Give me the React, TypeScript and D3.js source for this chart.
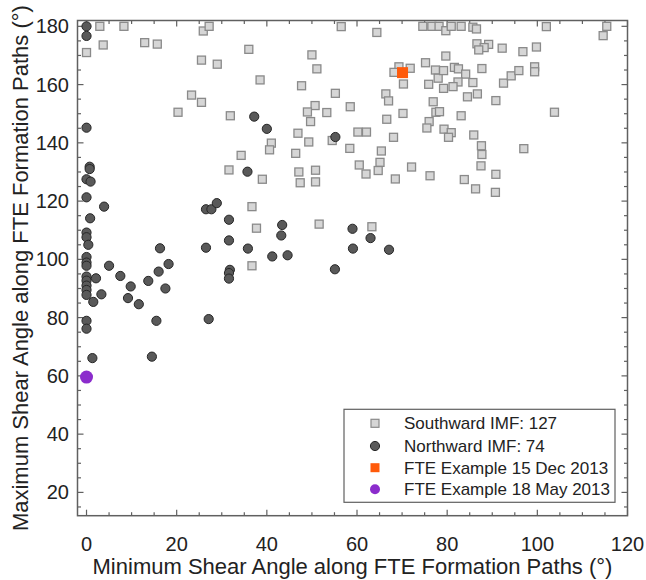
import React from "react";
import * as d3 from "d3";

// ---------- DATA ----------
const southward: [number, number][] = [
  [2.95, 180], [8.3, 180], [0, 171], [3.7, 173.6], [12.9, 174.4], [15.7, 173.9], [25.9, 178.4],
  [27.2, 180], [25.5, 168.4], [29, 167], [36, 172.1], [38.5, 161.6], [23.3, 156.4], [25.5, 153.9],
  [20.3, 150.5], [31.9, 149.3], [34.3, 135.7], [31.6, 130.7], [39, 127.5],
  [56.5, 179.9], [64.4, 177.9], [50, 170.2], [51.1, 165.4], [47.7, 159.6], [55.2, 157], [50.7, 152.8],
  [49, 150.6], [53.3, 150.4], [58.5, 152.4], [49.7, 147.3], [46.9, 143.3], [49.3, 140.3], [41, 139.9],
  [40.6, 137.6], [46.4, 136.4], [54.5, 140.8], [60.2, 143.7], [62.1, 143.7], [58.4, 138.1], [47.1, 130],
  [50.8, 130.6], [47.4, 126.3], [50.8, 126.6], [60.5, 132.4], [62, 129.3], [65.1, 133.3], [65.4, 137.2],
  [64.7, 130.5], [68.5, 127.6], [72.1, 131.7], [76.2, 128.7], [68.1, 141.9], [66.6, 148.1], [70.2, 150.1],
  [66.4, 156.8], [67, 154.4], [69.3, 166.1], [68.2, 164.2], [71.8, 165.6], [70.3, 160.2], [75.2, 167.5],
  [77.4, 165], [78, 162.2], [75.9, 160.1], [76.9, 154.1], [77.5, 150.5], [76, 147.3], [75.5, 145.1],
  [74.6, 180], [76.6, 180], [78.2, 180],
  [79.7, 178.5], [80.9, 180], [83.1, 180], [85.7, 179.7], [86.5, 179.1], [102, 179.9], [115.4, 180],
  [114.6, 176.8], [86.6, 174], [89.2, 173.8], [88.2, 172.7], [87, 171.9], [92.2, 172.5], [96.8, 171.3],
  [99.8, 172.9], [79.7, 169.8], [79.2, 164.8], [81.6, 165.9], [82.5, 165.4], [84.1, 163.6], [87.7, 165.5],
  [82.4, 160.9], [81.3, 159.3], [79.2, 158.7], [85.7, 160.7], [92.5, 160.5], [94.2, 163], [95.9, 164.8],
  [99.4, 166.1], [99.4, 164.4], [84.5, 155.8], [86.7, 156.8], [90.8, 154.5], [78.3, 150.7], [83.1, 149.3],
  [103.8, 150.5], [79.3, 144.7], [80.9, 143.5], [80.3, 141.9], [85.9, 142.7], [87.6, 139], [87.7, 136],
  [87.5, 132.1], [97, 138], [83.8, 127.4], [86.3, 124.2], [90.8, 129.2], [90.7, 123],
  [36.7, 118.1], [37.7, 110.7], [36.7, 97.8], [51.6, 112.1], [63.3, 111.2],
];

const northward: [number, number][] = [
  [0, 180], [0, 176.7], [0, 145.2], [0.7, 131.8], [0.7, 131], [0, 127.5], [0.9, 126.7], [0, 121.3],
  [3.9, 118.1], [0.8, 114.1], [0, 109.2], [0, 107.6], [0.4, 105], [0, 100.8], [0, 98.9], [0, 97.8],
  [0, 94.1], [0, 92.7], [0, 91], [0, 89.5], [0, 87.8], [2.1, 93.5], [5, 97.8], [3.3, 88], [1.5, 85.4],
  [7.5, 94.3], [9.8, 90.7], [9.2, 86.7], [11.6, 84.6], [13.7, 92.6], [16, 95.8], [16.3, 103.8],
  [18.2, 98.4], [17.5, 90], [15.5, 78.9], [0, 78.9], [0, 76.2], [1.3, 66.1], [14.5, 66.6],
  [26.5, 117.2], [27.7, 117.2], [28.9, 119.3], [31.6, 113.6], [31.6, 106.5], [26.5, 104], [35.8, 103.7],
  [31.8, 96.4], [31.6, 95.3], [31.6, 93.4], [27.1, 79.5], [37.2, 149], [35.7, 130.1], [40, 144.8],
  [55.2, 142], [43.4, 111.8], [43.2, 108.2], [41.2, 101], [44.6, 101.4], [59, 110.5], [63, 107.3],
  [59.1, 103.7], [67.1, 103.3], [55.1, 96.6],
];

const exampleDec: [number, number][] = [[70.1, 164.1]];
const exampleMay: [number, number][] = [[0, 59.6]];

const xTicks = [0, 20, 40, 60, 80, 100, 120];
const yTicks = [20, 40, 60, 80, 100, 120, 140, 160, 180];

const legendLabels = [
  "Southward IMF: 127",
  "Northward IMF: 74",
  "FTE Example 15 Dec 2013",
  "FTE Example 18 May 2013",
];

const xTitle = "Minimum Shear Angle along FTE Formation Paths (°)";
const yTitle = "Maximum Shear Angle along FTE Formation Paths (°)";

// ---------- LAYOUT ----------
const W = 646;
const H = 580;
const L = 77.5, R = 627.5, T = 20.5, B = 515.7;
const FONT = "'Liberation Sans', Arial, Helvetica, sans-serif";

const SQ_FILL = "#d6d6d6";
const SQ_STROKE = "#8a8a8a";
const CI_FILL = "#595959";
const CI_STROKE = "#262626";
const ORANGE = "#ff5a0a";
const PURPLE = "#8b2ccc";
const FRAME = "#606060";
const TEXT = "#222222";

export default function App() {
  const x = d3.scaleLinear().domain([-2, 120]).range([L, R]);
  const y = d3.scaleLinear().domain([12, 182]).range([B, T]);

  const xMinor = d3.range(0, 121, 5);
  const yMinor = d3.range(15, 181, 5);
  const sq = 8;

  const legendRows = [423.3, 446, 467.7, 489.3];
  const lx = 375;

  return (
    <div style={{ position: "fixed", left: 0, top: 0 }}>
      <svg width={W} height={H} style={{ display: "block", background: "#fff" }} fontFamily={FONT}>
        {/* ticks */}
        <g stroke={FRAME} strokeWidth={1.2}>
          {xMinor.map((v) => {
            const major = v % 20 === 0;
            const len = major ? 6 : 3.5;
            return (
              <g key={"xt" + v}>
                <line x1={x(v)} x2={x(v)} y1={B} y2={B - len} />
                <line x1={x(v)} x2={x(v)} y1={T} y2={T + len} />
              </g>
            );
          })}
          {yMinor.map((v) => {
            const major = v % 20 === 0;
            const len = major ? 6 : 3.5;
            return (
              <g key={"yt" + v}>
                <line x1={L} x2={L + len} y1={y(v)} y2={y(v)} />
                <line x1={R} x2={R - len} y1={y(v)} y2={y(v)} />
              </g>
            );
          })}
        </g>

        {/* southward squares */}
        <g>
          {southward.map(([a, b], i) => (
            <rect
              key={"s" + i}
              x={x(a) - sq / 2}
              y={y(b) - sq / 2}
              width={sq}
              height={sq}
              fill={SQ_FILL}
              stroke={SQ_STROKE}
              strokeWidth={1.3}
            />
          ))}
        </g>

        {/* northward circles */}
        <g>
          {northward.map(([a, b], i) => (
            <circle key={"n" + i} cx={x(a)} cy={y(b)} r={4.6} fill={CI_FILL} stroke={CI_STROKE} strokeWidth={1} />
          ))}
        </g>

        {/* examples */}
        {exampleDec.map(([a, b], i) => (
          <rect key={"d" + i} x={x(a) - 5.5} y={y(b) - 5.5} width={11} height={11} fill={ORANGE} />
        ))}
        {exampleMay.map(([a, b], i) => (
          <circle key={"m" + i} cx={x(a)} cy={y(b)} r={6.5} fill={PURPLE} />
        ))}

        {/* frame */}
        <rect x={L} y={T} width={R - L} height={B - T} fill="none" stroke={FRAME} strokeWidth={1.5} />

        {/* tick labels */}
        <g fill={TEXT} fontSize={20}>
          {xTicks.map((v) => (
            <text key={"xl" + v} x={x(v)} y={551} textAnchor="middle">
              {v}
            </text>
          ))}
          {yTicks.map((v) => (
            <text key={"yl" + v} x={69} y={y(v) + 7} textAnchor="end">
              {v}
            </text>
          ))}
        </g>

        {/* axis titles */}
        <text x={(L + R) / 2} y={574} textAnchor="middle" fontSize={22} fill={TEXT}>
          {xTitle}
        </text>
        <text
          transform={`translate(28, ${(T + B) / 2}) rotate(-90)`}
          textAnchor="middle"
          fontSize={22}
          fill={TEXT}
        >
          {yTitle}
        </text>

        {/* legend */}
        <rect x={344} y={409.3} width={271} height={93} fill="#fff" stroke={FRAME} strokeWidth={1.2} />
        <rect x={lx - 4} y={legendRows[0] - 4} width={8} height={8} fill={SQ_FILL} stroke={SQ_STROKE} strokeWidth={1.2} />
        <circle cx={lx} cy={legendRows[1]} r={4.6} fill={CI_FILL} stroke={CI_STROKE} strokeWidth={1} />
        <rect x={lx - 4.5} y={legendRows[2] - 4.5} width={9} height={9} fill={ORANGE} />
        <circle cx={lx} cy={legendRows[3]} r={5} fill={PURPLE} />
        <g fontSize={17} fill={TEXT}>
          {legendLabels.map((t, i) => (
            <text key={"lg" + i} x={404} y={legendRows[i] + 6}>
              {t}
            </text>
          ))}
        </g>
      </svg>
    </div>
  );
}
